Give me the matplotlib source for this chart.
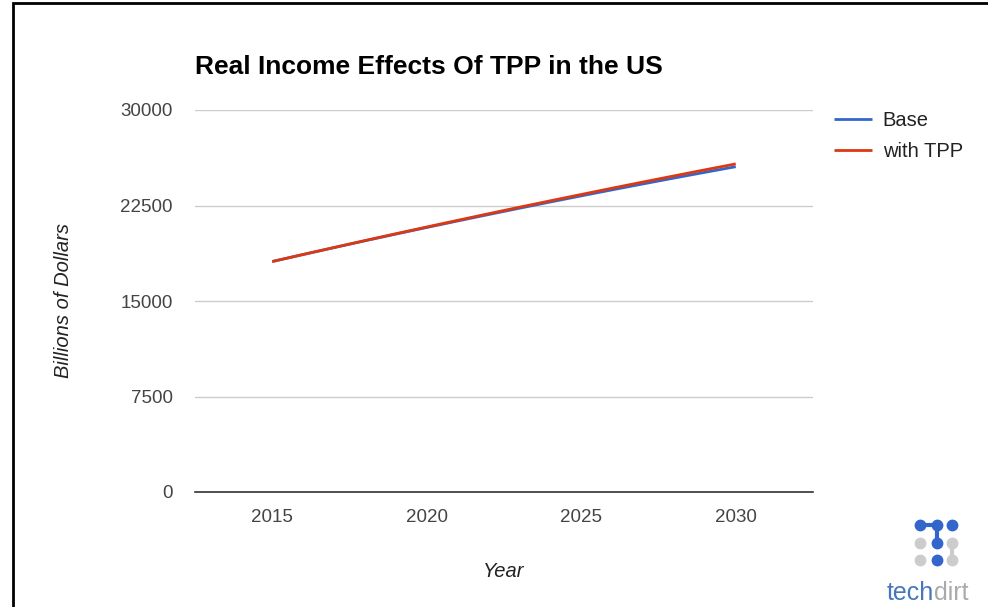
"""Real income effects of TPP in the US: base vs with-TPP line chart."""
import matplotlib
matplotlib.use("Agg")
import matplotlib.pyplot as plt
from matplotlib.patches import Rectangle
from matplotlib.lines import Line2D

plt.rcParams["font.family"] = ["Liberation Sans", "DejaVu Sans"]

# values (billions of dollars)
years = [2015, 2016, 2017, 2018, 2019, 2020, 2021, 2022,
         2023, 2024, 2025, 2026, 2027, 2028, 2029, 2030]
base = [18100, 18650, 19192, 19727, 20254, 20773, 21285, 21789,
        22286, 22775, 23256, 23730, 24196, 24654, 25105, 25548]
with_tpp = [18100, 18655, 19202, 19747, 20284, 20813, 21335, 21854,
            22366, 22870, 23366, 23860, 24346, 24824, 25300, 25768]

x_ticks = [2015, 2020, 2025, 2030]
y_ticks = [0, 7500, 15000, 22500, 30000]

BLUE = "#3366cc"
RED = "#dc3912"

fig = plt.figure(figsize=(9.88, 6.07), dpi=100)
ax = fig.add_axes([195 / 988, 115 / 607, 618 / 988, 382 / 607])

ax.plot(years, base, color=BLUE, lw=2, label="Base", solid_capstyle="butt")
ax.plot(years, with_tpp, color=RED, lw=2, label="with TPP", solid_capstyle="butt")

ax.set_xlim(2012.5, 2032.5)
ax.set_ylim(0, 30000)
ax.set_xticks(x_ticks)
ax.set_yticks(y_ticks)
ax.set_xticklabels([str(v) for v in x_ticks])
ax.set_yticklabels([str(v) for v in y_ticks])
ax.tick_params(length=0, labelsize=13.5, colors="#444444")
ax.tick_params(axis="y", pad=16)
ax.tick_params(axis="x", pad=12)
ax.grid(axis="y", color="#cccccc", lw=1)
ax.set_axisbelow(True)
for s in ["top", "right", "left"]:
    ax.spines[s].set_visible(False)
ax.spines["bottom"].set_color("#333333")
ax.spines["bottom"].set_linewidth(1.2)

ax.set_ylabel("Billions of Dollars", fontsize=14.5, style="italic",
              color="#222222", labelpad=34)
ax.set_xlabel("Year", fontsize=14.5, style="italic", color="#222222",
              labelpad=26)

fig.text(195 / 988, 1 - 67 / 607, "Real Income Effects Of TPP in the US",
         fontsize=19, fontweight="bold", color="#000000", va="center")

ax.legend(loc="upper left", bbox_to_anchor=(1.005, 1.045), frameon=False,
          fontsize=14.5, labelcolor="#222222", handlelength=1.9,
          handletextpad=0.5, labelspacing=0.62)

# outer frame of the screenshot
fig.patches.append(Rectangle((13 / 988, -0.05), 1.2, 1 - 3 / 607 + 0.05,
                             transform=fig.transFigure, fill=False,
                             edgecolor="black", lw=2))

# techdirt logo
dots = [(920, 525, BLUE), (937, 525, BLUE), (952, 525, BLUE),
        (920, 543, "#cccccc"), (937, 543, BLUE), (952, 543, "#cccccc"),
        (920, 560, "#cccccc"), (937, 560, BLUE), (952, 560, "#cccccc")]
for (x0, y0, x1, y1, c) in [(920, 525, 937, 525, BLUE),
                            (937, 525, 937, 543, BLUE),
                            (952, 543, 952, 560, "#cccccc")]:
    fig.add_artist(Line2D([x0 / 988, x1 / 988], [1 - y0 / 607, 1 - y1 / 607],
                          color=c, lw=3, transform=fig.transFigure))
for x, y, c in dots:
    fig.add_artist(Line2D([x / 988], [1 - y / 607], marker="o", ms=7.5,
                          color=c, transform=fig.transFigure))
fig.text(934 / 988, 1 - 593 / 607, "tech", color="#4477bb",
         fontsize=18, ha="right", va="center")
fig.text(934 / 988, 1 - 593 / 607, "dirt", color="#aaaaaa",
         fontsize=18, ha="left", va="center")

fig.savefig("out.png", dpi=100)
